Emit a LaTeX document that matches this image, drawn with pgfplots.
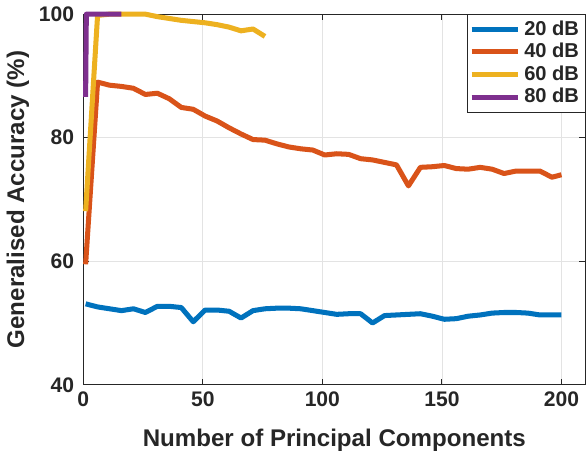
\documentclass[border=0pt]{standalone}
\usepackage{pgfplots}
\pgfplotsset{compat=1.18}
\usepackage{fontspec}
\setmainfont{Liberation Sans}

\definecolor{c20}{RGB}{0,114,189}
\definecolor{c40}{RGB}{217,83,25}
\definecolor{c60}{RGB}{237,177,32}
\definecolor{c80}{RGB}{126,47,142}
\definecolor{axcol}{RGB}{38,38,38}

\begin{document}
\begin{tikzpicture}
\begin{axis}[
  scale only axis,
  width=250pt, height=184.5pt,
  xmin=0, xmax=210, ymin=40, ymax=100,
  xtick={0,50,100,150,200},
  ytick={40,60,80,100},
  grid=major,
  major grid style={gray!22, line width=0.4pt},
  tick align=inside,
  major tick length=3pt,
  axis line style={axcol, line width=0.6pt},
  tick style={axcol, line width=0.5pt},
  clip=false,
  /pgf/number format/assume math mode=true,
  tick label style={font=\bfseries\fontsize{10.5}{12}\selectfont, text=axcol},
  yticklabel style={xshift=-1pt},
  xlabel={Number of Principal Components},
  ylabel={Generalised Accuracy (\%)},
  label style={font=\bfseries\fontsize{12}{14}\selectfont, text=axcol},
  xlabel style={yshift=-4pt},
  ylabel style={yshift=-2pt},
  legend cell align=left,
  legend style={font=\bfseries\fontsize{10}{11.5}\selectfont, text=axcol,
    draw=axcol, line width=0.4pt, inner sep=1pt, row sep=-1.5pt,
    at={(1,1)}, anchor=north east},
  legend image code/.code={\draw[#1, line width=2.5pt] (0pt,0pt) -- (23pt,0pt);},
  every axis plot/.append style={line width=2.5pt, line join=round},
]
% 20 dB
\addplot[c20] coordinates {
(1,53.1) (6,52.6) (11,52.3) (16,52.0) (21,52.3) (26,51.7) (31,52.7) (36,52.7)
(41,52.5) (46,50.2) (51,52.1) (56,52.1) (61,51.9) (66,50.8) (71,52.0) (76,52.3)
(81,52.4) (86,52.4) (91,52.3) (96,52.0) (101,51.7) (106,51.4) (111,51.5) (116,51.5)
(121,50.0) (126,51.2) (131,51.3) (136,51.4) (141,51.5) (146,51.1) (151,50.6) (156,50.7)
(161,51.1) (166,51.3) (171,51.6) (176,51.7) (181,51.7) (186,51.6) (191,51.3) (196,51.3)
(200,51.3)};
\addlegendentry{20 dB}
% 40 dB
\addplot[c40] coordinates {
(1,59.5) (6,89.0) (11,88.5) (16,88.3) (21,88.0) (26,87.0) (31,87.2) (36,86.3)
(41,84.9) (46,84.6) (51,83.5) (56,82.7) (61,81.6) (66,80.6) (71,79.7) (76,79.6)
(81,79.0) (86,78.5) (91,78.2) (96,78.0) (101,77.2) (106,77.4) (111,77.3) (116,76.6)
(121,76.4) (126,76.0) (131,75.6) (136,72.2) (141,75.2) (146,75.3) (151,75.5) (156,75.0)
(161,74.9) (166,75.2) (171,74.9) (176,74.2) (181,74.6) (186,74.6) (191,74.6) (196,73.6)
(200,74.0)};
\addlegendentry{40 dB}
% 60 dB
\addplot[c60] coordinates {
(1,68.1) (6,99.8) (11,100) (16,100) (21,100) (26,100) (31,99.6) (36,99.3)
(41,99.0) (46,98.8) (51,98.6) (56,98.3) (61,97.9) (66,97.3) (71,97.6) (76,96.4)};
\addlegendentry{60 dB}
% 80 dB
\addplot[c80] coordinates {
(1,86.6) (1.3,100) (6,100) (11,100) (16,100)};
\addlegendentry{80 dB}
\end{axis}
\end{tikzpicture}
\end{document}
